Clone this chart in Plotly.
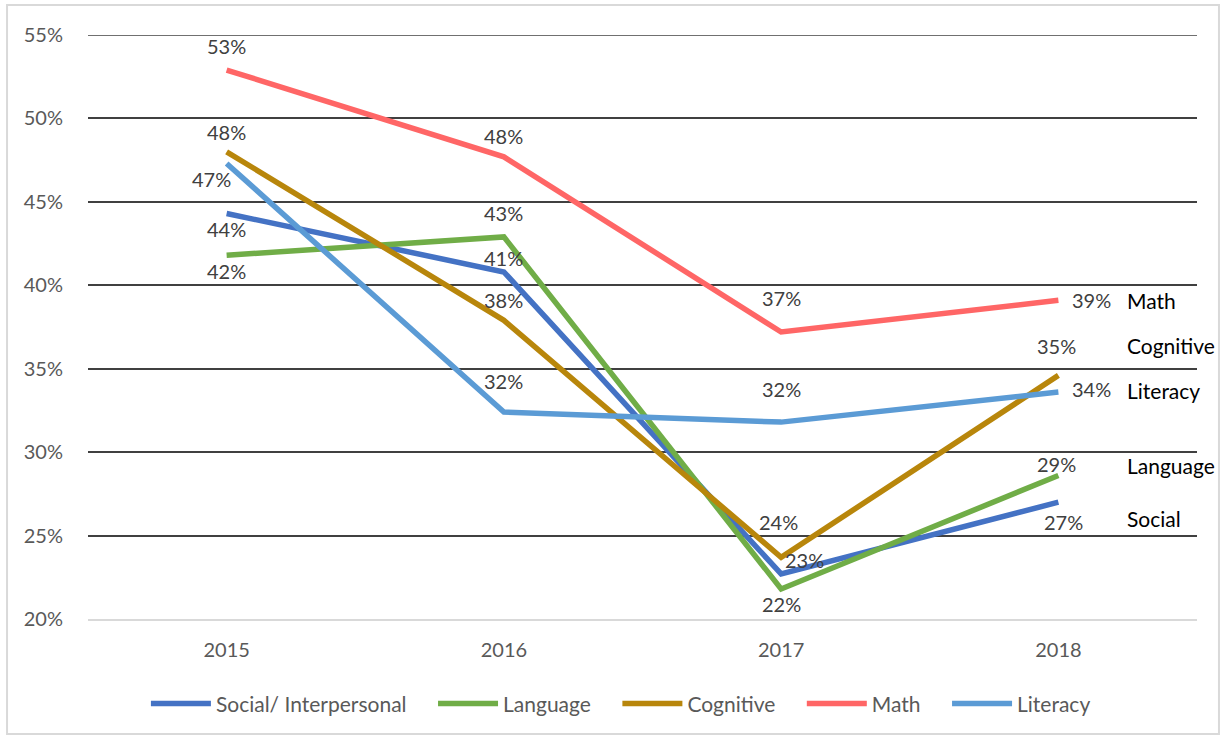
import plotly.graph_objects as go

years = ['2015', '2016', '2017', '2018']
social = [44.3, 40.8, 22.7, 27.0]
language = [41.8, 42.9, 21.8, 28.6]
cognitive = [48.0, 37.9, 23.7, 34.6]
math = [52.9, 47.7, 37.2, 39.1]
literacy = [47.3, 32.4, 31.8, 33.6]

series_names = ['Social/ Interpersonal', 'Language', 'Cognitive', 'Math', 'Literacy']
series_vals = [social, language, cognitive, math, literacy]
colors = ['#4472C4', '#70AD47', '#B8860B', '#FF6666', '#5B9BD5']

end_labels = ['Math', 'Cognitive', 'Literacy', 'Language', 'Social']
end_label_y = [39.1, 36.4, 33.7, 29.2, 26.0]

# label offsets in px (dx, dy) per series per point
offsets = [
    [(0, 15), (0, -14), (23, -14), (5, 20)],
    [(0, 16), (0, -24), (0, 15), (-2, -12)],
    [(0, -20), (0, -20), (-3, -35), (-2, -29)],
    [(0, -24), (0, -21), (0, -34), (33, 0)],
    [(-15, 16), (0, -31), (0, -33), (33, -3)],
]

FONT = 'Lato'
FS = 20
PAD = '\u00a0' * 4
fig = go.Figure()
xs = list(range(len(years)))
for name, vals, col in zip(series_names, series_vals, colors):
    fig.add_trace(go.Scatter(x=xs, y=vals, name=name + PAD, mode='lines',
                             line=dict(color=col, width=5.5)))

for vals, offs in zip(series_vals, offsets):
    for i, v in enumerate(vals):
        fig.add_annotation(x=i, y=v, text='{:.0f}%'.format(v), showarrow=False,
                           xshift=offs[i][0], yshift=-offs[i][1],
                           font=dict(family=FONT, size=FS, color='#404040'))

for lab, yv in zip(end_labels, end_label_y):
    fig.add_annotation(x=3.25, y=yv, text=lab, showarrow=False, xanchor='left',
                       xshift=-3, font=dict(family=FONT, size=21, color='#000000'))

# top gridline (plotly drops the one on the plot edge)
fig.add_hline(y=55, line=dict(color='#404040', width=1.5), layer='below')

# chart border
fig.add_shape(type='rect', xref='paper', yref='paper', x0=-0.073, x1=1.0198,
              y0=-0.197, y1=1.0514, line=dict(color='#d9d9d9', width=2), layer='below')

fig.update_layout(
    width=1228, height=736,
    margin=dict(l=88, r=31, t=35, b=117),
    plot_bgcolor='white', paper_bgcolor='white',
    font=dict(family=FONT, size=FS, color='#595959'),
    showlegend=True,
    legend=dict(orientation='h', x=0.49, xanchor='center', y=-0.11, yanchor='top',
                font=dict(family=FONT, size=21, color='#595959'), itemwidth=60,
                tracegroupgap=0),
)
fig.update_xaxes(range=[-0.5, 3.5], tickvals=xs, ticktext=years, showgrid=False,
                 showline=True, linecolor='#d9d9d9', linewidth=2, ticks='',
                 ticklabelstandoff=12, zeroline=False)
fig.update_yaxes(range=[20, 55], dtick=5, ticksuffix='%', showgrid=True,
                 gridcolor='#404040', gridwidth=1.5, zeroline=False, showline=False,
                 ticklabelstandoff=24)

fig.write_html('out.html', config={'displayModeBar': False},
               post_script="document.body.style.margin='0';")
